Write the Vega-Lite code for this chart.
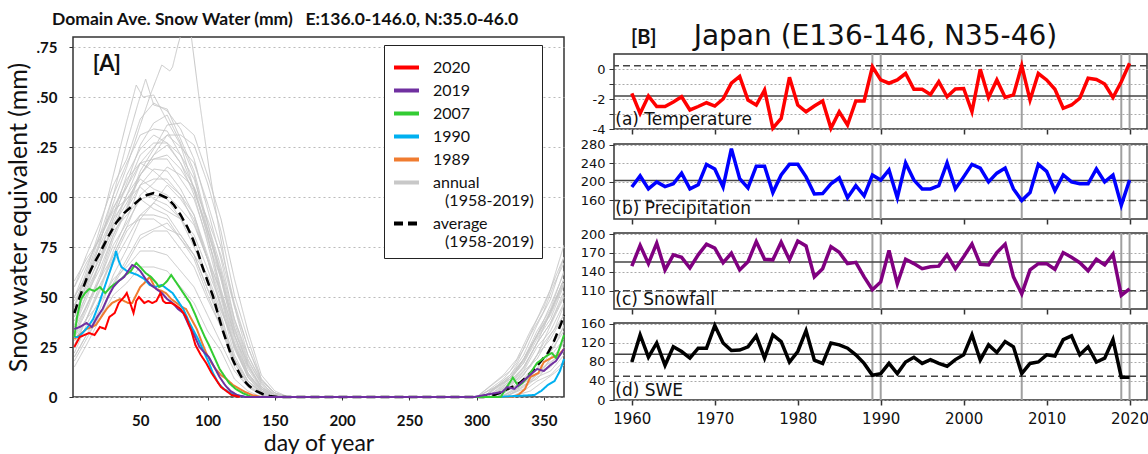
{
"$schema": "https://vega.github.io/schema/vega-lite/v6.json",
"background": "white",
"padding": {"left": 5, "top": 9, "right": 0, "bottom": 0},
"autosize": {"type": "pad"},
"config": {
  "view": {"stroke": "#333", "strokeWidth": 1.5},
  "axis": {"domain": false, "tickColor": "#333", "labelColor": "#111", "titleColor": "#111", "labelOverlap": false}
},
"datasets": {
"swe": [
{"s":"g","y":1963,"d":1,"v":50},{"s":"g","y":1963,"d":10,"v":60},{"s":"g","y":1963,"d":20,"v":78},{"s":"g","y":1963,"d":30,"v":97},{"s":"g","y":1963,"d":40,"v":115},{"s":"g","y":1963,"d":50,"v":136},{"s":"g","y":1963,"d":58,"v":152},{"s":"g","y":1963,"d":66,"v":166},{"s":"g","y":1963,"d":72,"v":163},{"s":"g","y":1963,"d":74,"v":165},{"s":"g","y":1963,"d":78,"v":176},{"s":"g","y":1963,"d":84,"v":190},{"s":"g","y":1963,"d":88,"v":180},{"s":"g","y":1963,"d":94,"v":148},{"s":"g","y":1963,"d":101,"v":115},{"s":"g","y":1963,"d":108,"v":86},{"s":"g","y":1963,"d":115,"v":60},{"s":"g","y":1963,"d":122,"v":40},{"s":"g","y":1963,"d":130,"v":21},{"s":"g","y":1963,"d":140,"v":8},{"s":"g","y":1963,"d":150,"v":2},{"s":"g","y":1963,"d":158,"v":0},{"s":"g","y":1963,"d":300,"v":0},{"s":"g","y":1963,"d":325,"v":9},{"s":"g","y":1963,"d":335,"v":19},{"s":"g","y":1963,"d":345,"v":31},{"s":"g","y":1963,"d":355,"v":46},{"s":"g","y":1963,"d":365,"v":62},
{"s":"g","y":1958,"d":1,"v":45},{"s":"g","y":1958,"d":10,"v":63},{"s":"g","y":1958,"d":20,"v":84},{"s":"g","y":1958,"d":30,"v":111},{"s":"g","y":1958,"d":40,"v":138},{"s":"g","y":1958,"d":47,"v":156},{"s":"g","y":1958,"d":52,"v":150},{"s":"g","y":1958,"d":60,"v":151},{"s":"g","y":1958,"d":70,"v":138},{"s":"g","y":1958,"d":80,"v":126},{"s":"g","y":1958,"d":90,"v":104},{"s":"g","y":1958,"d":100,"v":81},{"s":"g","y":1958,"d":110,"v":52},{"s":"g","y":1958,"d":120,"v":29},{"s":"g","y":1958,"d":130,"v":12},{"s":"g","y":1958,"d":140,"v":4},{"s":"g","y":1958,"d":150,"v":0},{"s":"g","y":1958,"d":305,"v":0},{"s":"g","y":1958,"d":325,"v":11},{"s":"g","y":1958,"d":335,"v":21},{"s":"g","y":1958,"d":345,"v":36},{"s":"g","y":1958,"d":355,"v":49},{"s":"g","y":1958,"d":365,"v":70},
{"s":"g","y":1960,"d":1,"v":40},{"s":"g","y":1960,"d":10,"v":56},{"s":"g","y":1960,"d":20,"v":77},{"s":"g","y":1960,"d":30,"v":101},{"s":"g","y":1960,"d":40,"v":127},{"s":"g","y":1960,"d":48,"v":146},{"s":"g","y":1960,"d":54,"v":159},{"s":"g","y":1960,"d":60,"v":146},{"s":"g","y":1960,"d":70,"v":144},{"s":"g","y":1960,"d":80,"v":129},{"s":"g","y":1960,"d":90,"v":113},{"s":"g","y":1960,"d":100,"v":87},{"s":"g","y":1960,"d":110,"v":61},{"s":"g","y":1960,"d":120,"v":34},{"s":"g","y":1960,"d":130,"v":16},{"s":"g","y":1960,"d":140,"v":5},{"s":"g","y":1960,"d":150,"v":1},{"s":"g","y":1960,"d":160,"v":0},{"s":"g","y":1960,"d":310,"v":0},{"s":"g","y":1960,"d":325,"v":6},{"s":"g","y":1960,"d":335,"v":15},{"s":"g","y":1960,"d":345,"v":27},{"s":"g","y":1960,"d":355,"v":43},{"s":"g","y":1960,"d":365,"v":59},
{"s":"g","y":1961,"d":1,"v":55},{"s":"g","y":1961,"d":10,"v":71},{"s":"g","y":1961,"d":20,"v":87},{"s":"g","y":1961,"d":30,"v":106},{"s":"g","y":1961,"d":40,"v":119},{"s":"g","y":1961,"d":50,"v":139},{"s":"g","y":1961,"d":60,"v":147},{"s":"g","y":1961,"d":70,"v":143},{"s":"g","y":1961,"d":80,"v":134},{"s":"g","y":1961,"d":90,"v":119},{"s":"g","y":1961,"d":100,"v":94},{"s":"g","y":1961,"d":110,"v":69},{"s":"g","y":1961,"d":120,"v":39},{"s":"g","y":1961,"d":130,"v":19},{"s":"g","y":1961,"d":140,"v":6},{"s":"g","y":1961,"d":150,"v":1},{"s":"g","y":1961,"d":160,"v":0},{"s":"g","y":1961,"d":300,"v":0},{"s":"g","y":1961,"d":325,"v":13},{"s":"g","y":1961,"d":335,"v":24},{"s":"g","y":1961,"d":345,"v":39},{"s":"g","y":1961,"d":355,"v":54},{"s":"g","y":1961,"d":365,"v":76},
{"s":"g","y":1962,"d":1,"v":35},{"s":"g","y":1962,"d":10,"v":49},{"s":"g","y":1962,"d":20,"v":67},{"s":"g","y":1962,"d":30,"v":89},{"s":"g","y":1962,"d":40,"v":107},{"s":"g","y":1962,"d":50,"v":126},{"s":"g","y":1962,"d":60,"v":137},{"s":"g","y":1962,"d":70,"v":141},{"s":"g","y":1962,"d":80,"v":127},{"s":"g","y":1962,"d":90,"v":111},{"s":"g","y":1962,"d":100,"v":84},{"s":"g","y":1962,"d":110,"v":59},{"s":"g","y":1962,"d":120,"v":31},{"s":"g","y":1962,"d":130,"v":14},{"s":"g","y":1962,"d":140,"v":4},{"s":"g","y":1962,"d":150,"v":0},{"s":"g","y":1962,"d":315,"v":0},{"s":"g","y":1962,"d":325,"v":4},{"s":"g","y":1962,"d":335,"v":11},{"s":"g","y":1962,"d":345,"v":21},{"s":"g","y":1962,"d":355,"v":36},{"s":"g","y":1962,"d":365,"v":50},
{"s":"g","y":1964,"d":1,"v":48},{"s":"g","y":1964,"d":10,"v":59},{"s":"g","y":1964,"d":20,"v":76},{"s":"g","y":1964,"d":30,"v":91},{"s":"g","y":1964,"d":40,"v":111},{"s":"g","y":1964,"d":50,"v":124},{"s":"g","y":1964,"d":60,"v":131},{"s":"g","y":1964,"d":70,"v":127},{"s":"g","y":1964,"d":80,"v":121},{"s":"g","y":1964,"d":90,"v":104},{"s":"g","y":1964,"d":100,"v":81},{"s":"g","y":1964,"d":110,"v":54},{"s":"g","y":1964,"d":120,"v":31},{"s":"g","y":1964,"d":130,"v":12},{"s":"g","y":1964,"d":140,"v":3},{"s":"g","y":1964,"d":150,"v":0},{"s":"g","y":1964,"d":310,"v":0},{"s":"g","y":1964,"d":325,"v":8},{"s":"g","y":1964,"d":335,"v":15},{"s":"g","y":1964,"d":345,"v":27},{"s":"g","y":1964,"d":355,"v":37},{"s":"g","y":1964,"d":365,"v":53},
{"s":"g","y":1965,"d":1,"v":30},{"s":"g","y":1965,"d":10,"v":43},{"s":"g","y":1965,"d":20,"v":59},{"s":"g","y":1965,"d":30,"v":79},{"s":"g","y":1965,"d":40,"v":94},{"s":"g","y":1965,"d":50,"v":111},{"s":"g","y":1965,"d":60,"v":121},{"s":"g","y":1965,"d":70,"v":126},{"s":"g","y":1965,"d":80,"v":117},{"s":"g","y":1965,"d":90,"v":101},{"s":"g","y":1965,"d":100,"v":77},{"s":"g","y":1965,"d":110,"v":51},{"s":"g","y":1965,"d":120,"v":25},{"s":"g","y":1965,"d":130,"v":10},{"s":"g","y":1965,"d":140,"v":2},{"s":"g","y":1965,"d":150,"v":0},{"s":"g","y":1965,"d":318,"v":0},{"s":"g","y":1965,"d":330,"v":4},{"s":"g","y":1965,"d":340,"v":11},{"s":"g","y":1965,"d":350,"v":17},{"s":"g","y":1965,"d":358,"v":26},{"s":"g","y":1965,"d":365,"v":33},
{"s":"g","y":1966,"d":1,"v":42},{"s":"g","y":1966,"d":10,"v":54},{"s":"g","y":1966,"d":20,"v":71},{"s":"g","y":1966,"d":30,"v":84},{"s":"g","y":1966,"d":40,"v":101},{"s":"g","y":1966,"d":50,"v":111},{"s":"g","y":1966,"d":60,"v":119},{"s":"g","y":1966,"d":70,"v":121},{"s":"g","y":1966,"d":80,"v":114},{"s":"g","y":1966,"d":90,"v":103},{"s":"g","y":1966,"d":100,"v":84},{"s":"g","y":1966,"d":110,"v":63},{"s":"g","y":1966,"d":120,"v":37},{"s":"g","y":1966,"d":130,"v":18},{"s":"g","y":1966,"d":140,"v":7},{"s":"g","y":1966,"d":150,"v":1},{"s":"g","y":1966,"d":160,"v":0},{"s":"g","y":1966,"d":305,"v":0},{"s":"g","y":1966,"d":325,"v":10},{"s":"g","y":1966,"d":335,"v":19},{"s":"g","y":1966,"d":345,"v":31},{"s":"g","y":1966,"d":355,"v":43},{"s":"g","y":1966,"d":365,"v":59},
{"s":"g","y":1967,"d":1,"v":25},{"s":"g","y":1967,"d":10,"v":39},{"s":"g","y":1967,"d":20,"v":54},{"s":"g","y":1967,"d":30,"v":73},{"s":"g","y":1967,"d":40,"v":89},{"s":"g","y":1967,"d":50,"v":106},{"s":"g","y":1967,"d":60,"v":114},{"s":"g","y":1967,"d":70,"v":113},{"s":"g","y":1967,"d":80,"v":104},{"s":"g","y":1967,"d":90,"v":91},{"s":"g","y":1967,"d":100,"v":69},{"s":"g","y":1967,"d":110,"v":46},{"s":"g","y":1967,"d":120,"v":21},{"s":"g","y":1967,"d":130,"v":8},{"s":"g","y":1967,"d":140,"v":2},{"s":"g","y":1967,"d":150,"v":0},{"s":"g","y":1967,"d":320,"v":0},{"s":"g","y":1967,"d":330,"v":3},{"s":"g","y":1967,"d":340,"v":8},{"s":"g","y":1967,"d":350,"v":15},{"s":"g","y":1967,"d":358,"v":19},{"s":"g","y":1967,"d":365,"v":28},
{"s":"g","y":1968,"d":1,"v":50},{"s":"g","y":1968,"d":10,"v":61},{"s":"g","y":1968,"d":20,"v":81},{"s":"g","y":1968,"d":30,"v":94},{"s":"g","y":1968,"d":40,"v":109},{"s":"g","y":1968,"d":50,"v":117},{"s":"g","y":1968,"d":60,"v":113},{"s":"g","y":1968,"d":70,"v":107},{"s":"g","y":1968,"d":80,"v":101},{"s":"g","y":1968,"d":90,"v":87},{"s":"g","y":1968,"d":100,"v":69},{"s":"g","y":1968,"d":110,"v":44},{"s":"g","y":1968,"d":120,"v":26},{"s":"g","y":1968,"d":130,"v":10},{"s":"g","y":1968,"d":140,"v":3},{"s":"g","y":1968,"d":150,"v":0},{"s":"g","y":1968,"d":308,"v":0},{"s":"g","y":1968,"d":325,"v":9},{"s":"g","y":1968,"d":335,"v":17},{"s":"g","y":1968,"d":345,"v":29},{"s":"g","y":1968,"d":355,"v":39},{"s":"g","y":1968,"d":365,"v":56},
{"s":"g","y":1969,"d":1,"v":38},{"s":"g","y":1969,"d":10,"v":51},{"s":"g","y":1969,"d":20,"v":64},{"s":"g","y":1969,"d":30,"v":81},{"s":"g","y":1969,"d":40,"v":94},{"s":"g","y":1969,"d":50,"v":106},{"s":"g","y":1969,"d":60,"v":109},{"s":"g","y":1969,"d":70,"v":109},{"s":"g","y":1969,"d":80,"v":101},{"s":"g","y":1969,"d":90,"v":91},{"s":"g","y":1969,"d":100,"v":71},{"s":"g","y":1969,"d":110,"v":51},{"s":"g","y":1969,"d":120,"v":27},{"s":"g","y":1969,"d":130,"v":12},{"s":"g","y":1969,"d":140,"v":3},{"s":"g","y":1969,"d":150,"v":0},{"s":"g","y":1969,"d":312,"v":0},{"s":"g","y":1969,"d":325,"v":5},{"s":"g","y":1969,"d":335,"v":13},{"s":"g","y":1969,"d":345,"v":19},{"s":"g","y":1969,"d":355,"v":31},{"s":"g","y":1969,"d":365,"v":41},
{"s":"g","y":1970,"d":1,"v":20},{"s":"g","y":1970,"d":10,"v":31},{"s":"g","y":1970,"d":20,"v":44},{"s":"g","y":1970,"d":30,"v":61},{"s":"g","y":1970,"d":40,"v":74},{"s":"g","y":1970,"d":50,"v":89},{"s":"g","y":1970,"d":60,"v":97},{"s":"g","y":1970,"d":70,"v":106},{"s":"g","y":1970,"d":80,"v":99},{"s":"g","y":1970,"d":90,"v":89},{"s":"g","y":1970,"d":100,"v":69},{"s":"g","y":1970,"d":110,"v":49},{"s":"g","y":1970,"d":120,"v":24},{"s":"g","y":1970,"d":130,"v":10},{"s":"g","y":1970,"d":140,"v":2},{"s":"g","y":1970,"d":150,"v":0},{"s":"g","y":1970,"d":322,"v":0},{"s":"g","y":1970,"d":335,"v":5},{"s":"g","y":1970,"d":345,"v":11},{"s":"g","y":1970,"d":355,"v":15},{"s":"g","y":1970,"d":365,"v":23},
{"s":"g","y":1971,"d":1,"v":45},{"s":"g","y":1971,"d":10,"v":57},{"s":"g","y":1971,"d":20,"v":73},{"s":"g","y":1971,"d":30,"v":89},{"s":"g","y":1971,"d":40,"v":99},{"s":"g","y":1971,"d":50,"v":109},{"s":"g","y":1971,"d":60,"v":104},{"s":"g","y":1971,"d":70,"v":101},{"s":"g","y":1971,"d":80,"v":94},{"s":"g","y":1971,"d":90,"v":86},{"s":"g","y":1971,"d":100,"v":69},{"s":"g","y":1971,"d":110,"v":53},{"s":"g","y":1971,"d":120,"v":31},{"s":"g","y":1971,"d":130,"v":15},{"s":"g","y":1971,"d":140,"v":5},{"s":"g","y":1971,"d":150,"v":1},{"s":"g","y":1971,"d":160,"v":0},{"s":"g","y":1971,"d":305,"v":0},{"s":"g","y":1971,"d":325,"v":11},{"s":"g","y":1971,"d":335,"v":19},{"s":"g","y":1971,"d":345,"v":33},{"s":"g","y":1971,"d":355,"v":44},{"s":"g","y":1971,"d":365,"v":63},
{"s":"g","y":1972,"d":1,"v":32},{"s":"g","y":1972,"d":10,"v":46},{"s":"g","y":1972,"d":20,"v":59},{"s":"g","y":1972,"d":30,"v":76},{"s":"g","y":1972,"d":40,"v":87},{"s":"g","y":1972,"d":50,"v":99},{"s":"g","y":1972,"d":60,"v":101},{"s":"g","y":1972,"d":70,"v":99},{"s":"g","y":1972,"d":80,"v":89},{"s":"g","y":1972,"d":90,"v":79},{"s":"g","y":1972,"d":100,"v":59},{"s":"g","y":1972,"d":110,"v":41},{"s":"g","y":1972,"d":120,"v":19},{"s":"g","y":1972,"d":130,"v":8},{"s":"g","y":1972,"d":140,"v":2},{"s":"g","y":1972,"d":150,"v":0},{"s":"g","y":1972,"d":315,"v":0},{"s":"g","y":1972,"d":330,"v":6},{"s":"g","y":1972,"d":340,"v":13},{"s":"g","y":1972,"d":350,"v":19},{"s":"g","y":1972,"d":358,"v":28},{"s":"g","y":1972,"d":365,"v":35},
{"s":"g","y":1973,"d":1,"v":28},{"s":"g","y":1973,"d":10,"v":39},{"s":"g","y":1973,"d":20,"v":56},{"s":"g","y":1973,"d":30,"v":69},{"s":"g","y":1973,"d":40,"v":83},{"s":"g","y":1973,"d":50,"v":91},{"s":"g","y":1973,"d":60,"v":97},{"s":"g","y":1973,"d":70,"v":93},{"s":"g","y":1973,"d":80,"v":89},{"s":"g","y":1973,"d":90,"v":75},{"s":"g","y":1973,"d":100,"v":59},{"s":"g","y":1973,"d":110,"v":37},{"s":"g","y":1973,"d":120,"v":19},{"s":"g","y":1973,"d":130,"v":6},{"s":"g","y":1973,"d":140,"v":1},{"s":"g","y":1973,"d":150,"v":0},{"s":"g","y":1973,"d":318,"v":0},{"s":"g","y":1973,"d":330,"v":4},{"s":"g","y":1973,"d":340,"v":10},{"s":"g","y":1973,"d":350,"v":14},{"s":"g","y":1973,"d":358,"v":23},{"s":"g","y":1973,"d":365,"v":29},
{"s":"g","y":1974,"d":1,"v":40},{"s":"g","y":1974,"d":10,"v":53},{"s":"g","y":1974,"d":20,"v":67},{"s":"g","y":1974,"d":30,"v":83},{"s":"g","y":1974,"d":40,"v":91},{"s":"g","y":1974,"d":50,"v":99},{"s":"g","y":1974,"d":60,"v":94},{"s":"g","y":1974,"d":70,"v":91},{"s":"g","y":1974,"d":80,"v":81},{"s":"g","y":1974,"d":90,"v":71},{"s":"g","y":1974,"d":100,"v":54},{"s":"g","y":1974,"d":110,"v":37},{"s":"g","y":1974,"d":120,"v":17},{"s":"g","y":1974,"d":130,"v":6},{"s":"g","y":1974,"d":140,"v":1},{"s":"g","y":1974,"d":150,"v":0},{"s":"g","y":1974,"d":310,"v":0},{"s":"g","y":1974,"d":325,"v":7},{"s":"g","y":1974,"d":335,"v":13},{"s":"g","y":1974,"d":345,"v":25},{"s":"g","y":1974,"d":355,"v":33},{"s":"g","y":1974,"d":365,"v":47},
{"s":"g","y":1975,"d":1,"v":55},{"s":"g","y":1975,"d":10,"v":67},{"s":"g","y":1975,"d":20,"v":79},{"s":"g","y":1975,"d":30,"v":93},{"s":"g","y":1975,"d":40,"v":99},{"s":"g","y":1975,"d":50,"v":105},{"s":"g","y":1975,"d":60,"v":99},{"s":"g","y":1975,"d":70,"v":96},{"s":"g","y":1975,"d":80,"v":89},{"s":"g","y":1975,"d":90,"v":81},{"s":"g","y":1975,"d":100,"v":64},{"s":"g","y":1975,"d":110,"v":46},{"s":"g","y":1975,"d":120,"v":25},{"s":"g","y":1975,"d":130,"v":11},{"s":"g","y":1975,"d":140,"v":3},{"s":"g","y":1975,"d":150,"v":0},{"s":"g","y":1975,"d":300,"v":0},{"s":"g","y":1975,"d":320,"v":7},{"s":"g","y":1975,"d":330,"v":13},{"s":"g","y":1975,"d":340,"v":25},{"s":"g","y":1975,"d":350,"v":35},{"s":"g","y":1975,"d":358,"v":47},{"s":"g","y":1975,"d":365,"v":57},
{"s":"g","y":1976,"d":1,"v":22},{"s":"g","y":1976,"d":10,"v":36},{"s":"g","y":1976,"d":20,"v":49},{"s":"g","y":1976,"d":30,"v":67},{"s":"g","y":1976,"d":40,"v":79},{"s":"g","y":1976,"d":50,"v":91},{"s":"g","y":1976,"d":60,"v":91},{"s":"g","y":1976,"d":70,"v":89},{"s":"g","y":1976,"d":80,"v":79},{"s":"g","y":1976,"d":90,"v":69},{"s":"g","y":1976,"d":100,"v":51},{"s":"g","y":1976,"d":110,"v":35},{"s":"g","y":1976,"d":120,"v":15},{"s":"g","y":1976,"d":130,"v":5},{"s":"g","y":1976,"d":140,"v":1},{"s":"g","y":1976,"d":150,"v":0},{"s":"g","y":1976,"d":320,"v":0},{"s":"g","y":1976,"d":335,"v":4},{"s":"g","y":1976,"d":345,"v":10},{"s":"g","y":1976,"d":355,"v":13},{"s":"g","y":1976,"d":365,"v":21},
{"s":"g","y":1977,"d":1,"v":35},{"s":"g","y":1977,"d":10,"v":45},{"s":"g","y":1977,"d":20,"v":59},{"s":"g","y":1977,"d":30,"v":71},{"s":"g","y":1977,"d":40,"v":85},{"s":"g","y":1977,"d":50,"v":89},{"s":"g","y":1977,"d":60,"v":89},{"s":"g","y":1977,"d":70,"v":84},{"s":"g","y":1977,"d":80,"v":81},{"s":"g","y":1977,"d":90,"v":71},{"s":"g","y":1977,"d":100,"v":61},{"s":"g","y":1977,"d":110,"v":43},{"s":"g","y":1977,"d":120,"v":27},{"s":"g","y":1977,"d":130,"v":11},{"s":"g","y":1977,"d":140,"v":4},{"s":"g","y":1977,"d":150,"v":1},{"s":"g","y":1977,"d":160,"v":0},{"s":"g","y":1977,"d":312,"v":0},{"s":"g","y":1977,"d":325,"v":6},{"s":"g","y":1977,"d":335,"v":11},{"s":"g","y":1977,"d":345,"v":21},{"s":"g","y":1977,"d":355,"v":29},{"s":"g","y":1977,"d":365,"v":41},
{"s":"g","y":1978,"d":1,"v":18},{"s":"g","y":1978,"d":10,"v":29},{"s":"g","y":1978,"d":20,"v":41},{"s":"g","y":1978,"d":30,"v":57},{"s":"g","y":1978,"d":40,"v":69},{"s":"g","y":1978,"d":50,"v":81},{"s":"g","y":1978,"d":60,"v":84},{"s":"g","y":1978,"d":70,"v":87},{"s":"g","y":1978,"d":80,"v":79},{"s":"g","y":1978,"d":90,"v":71},{"s":"g","y":1978,"d":100,"v":54},{"s":"g","y":1978,"d":110,"v":39},{"s":"g","y":1978,"d":120,"v":19},{"s":"g","y":1978,"d":130,"v":8},{"s":"g","y":1978,"d":140,"v":2},{"s":"g","y":1978,"d":150,"v":0},{"s":"g","y":1978,"d":325,"v":0},{"s":"g","y":1978,"d":335,"v":3},{"s":"g","y":1978,"d":345,"v":8},{"s":"g","y":1978,"d":355,"v":11},{"s":"g","y":1978,"d":365,"v":18},
{"s":"g","y":1980,"d":1,"v":42},{"s":"g","y":1980,"d":10,"v":56},{"s":"g","y":1980,"d":20,"v":69},{"s":"g","y":1980,"d":30,"v":86},{"s":"g","y":1980,"d":40,"v":97},{"s":"g","y":1980,"d":50,"v":111},{"s":"g","y":1980,"d":60,"v":121},{"s":"g","y":1980,"d":70,"v":131},{"s":"g","y":1980,"d":80,"v":131},{"s":"g","y":1980,"d":90,"v":126},{"s":"g","y":1980,"d":100,"v":107},{"s":"g","y":1980,"d":110,"v":83},{"s":"g","y":1980,"d":120,"v":51},{"s":"g","y":1980,"d":130,"v":29},{"s":"g","y":1980,"d":140,"v":9},{"s":"g","y":1980,"d":150,"v":2},{"s":"g","y":1980,"d":160,"v":0},{"s":"g","y":1980,"d":305,"v":0},{"s":"g","y":1980,"d":325,"v":9},{"s":"g","y":1980,"d":335,"v":17},{"s":"g","y":1980,"d":345,"v":31},{"s":"g","y":1980,"d":355,"v":41},{"s":"g","y":1980,"d":365,"v":57},
{"s":"g","y":1981,"d":1,"v":30},{"s":"g","y":1981,"d":10,"v":45},{"s":"g","y":1981,"d":20,"v":61},{"s":"g","y":1981,"d":30,"v":81},{"s":"g","y":1981,"d":40,"v":95},{"s":"g","y":1981,"d":50,"v":113},{"s":"g","y":1981,"d":60,"v":124},{"s":"g","y":1981,"d":70,"v":136},{"s":"g","y":1981,"d":80,"v":137},{"s":"g","y":1981,"d":90,"v":131},{"s":"g","y":1981,"d":100,"v":111},{"s":"g","y":1981,"d":110,"v":89},{"s":"g","y":1981,"d":120,"v":59},{"s":"g","y":1981,"d":130,"v":33},{"s":"g","y":1981,"d":140,"v":11},{"s":"g","y":1981,"d":150,"v":3},{"s":"g","y":1981,"d":160,"v":0},{"s":"g","y":1981,"d":310,"v":0},{"s":"g","y":1981,"d":330,"v":9},{"s":"g","y":1981,"d":340,"v":15},{"s":"g","y":1981,"d":350,"v":27},{"s":"g","y":1981,"d":358,"v":34},{"s":"g","y":1981,"d":365,"v":46},
{"s":"g","y":1984,"d":1,"v":50},{"s":"g","y":1984,"d":10,"v":65},{"s":"g","y":1984,"d":20,"v":81},{"s":"g","y":1984,"d":30,"v":101},{"s":"g","y":1984,"d":40,"v":117},{"s":"g","y":1984,"d":50,"v":131},{"s":"g","y":1984,"d":60,"v":134},{"s":"g","y":1984,"d":70,"v":133},{"s":"g","y":1984,"d":80,"v":121},{"s":"g","y":1984,"d":90,"v":109},{"s":"g","y":1984,"d":100,"v":87},{"s":"g","y":1984,"d":110,"v":65},{"s":"g","y":1984,"d":120,"v":39},{"s":"g","y":1984,"d":130,"v":21},{"s":"g","y":1984,"d":140,"v":7},{"s":"g","y":1984,"d":150,"v":1},{"s":"g","y":1984,"d":160,"v":0},{"s":"g","y":1984,"d":302,"v":0},{"s":"g","y":1984,"d":320,"v":9},{"s":"g","y":1984,"d":330,"v":17},{"s":"g","y":1984,"d":340,"v":31},{"s":"g","y":1984,"d":350,"v":43},{"s":"g","y":1984,"d":358,"v":57},{"s":"g","y":1984,"d":365,"v":67},
{"s":"g","y":1985,"d":1,"v":36},{"s":"g","y":1985,"d":10,"v":51},{"s":"g","y":1985,"d":20,"v":67},{"s":"g","y":1985,"d":30,"v":87},{"s":"g","y":1985,"d":40,"v":101},{"s":"g","y":1985,"d":50,"v":117},{"s":"g","y":1985,"d":60,"v":125},{"s":"g","y":1985,"d":70,"v":131},{"s":"g","y":1985,"d":80,"v":125},{"s":"g","y":1985,"d":90,"v":117},{"s":"g","y":1985,"d":100,"v":97},{"s":"g","y":1985,"d":110,"v":75},{"s":"g","y":1985,"d":120,"v":47},{"s":"g","y":1985,"d":130,"v":25},{"s":"g","y":1985,"d":140,"v":8},{"s":"g","y":1985,"d":150,"v":2},{"s":"g","y":1985,"d":160,"v":0},{"s":"g","y":1985,"d":308,"v":0},{"s":"g","y":1985,"d":325,"v":8},{"s":"g","y":1985,"d":335,"v":14},{"s":"g","y":1985,"d":345,"v":27},{"s":"g","y":1985,"d":355,"v":37},{"s":"g","y":1985,"d":365,"v":51},
{"s":"g","y":1986,"d":1,"v":26},{"s":"g","y":1986,"d":10,"v":39},{"s":"g","y":1986,"d":20,"v":53},{"s":"g","y":1986,"d":30,"v":71},{"s":"g","y":1986,"d":40,"v":85},{"s":"g","y":1986,"d":50,"v":101},{"s":"g","y":1986,"d":60,"v":107},{"s":"g","y":1986,"d":70,"v":115},{"s":"g","y":1986,"d":80,"v":111},{"s":"g","y":1986,"d":90,"v":105},{"s":"g","y":1986,"d":100,"v":89},{"s":"g","y":1986,"d":110,"v":71},{"s":"g","y":1986,"d":120,"v":45},{"s":"g","y":1986,"d":130,"v":25},{"s":"g","y":1986,"d":140,"v":9},{"s":"g","y":1986,"d":150,"v":2},{"s":"g","y":1986,"d":160,"v":0},{"s":"g","y":1986,"d":315,"v":0},{"s":"g","y":1986,"d":330,"v":6},{"s":"g","y":1986,"d":340,"v":10},{"s":"g","y":1986,"d":350,"v":19},{"s":"g","y":1986,"d":358,"v":25},{"s":"g","y":1986,"d":365,"v":36},
{"s":"g","y":1991,"d":1,"v":46},{"s":"g","y":1991,"d":10,"v":59},{"s":"g","y":1991,"d":20,"v":73},{"s":"g","y":1991,"d":30,"v":91},{"s":"g","y":1991,"d":40,"v":105},{"s":"g","y":1991,"d":50,"v":121},{"s":"g","y":1991,"d":60,"v":127},{"s":"g","y":1991,"d":70,"v":127},{"s":"g","y":1991,"d":80,"v":117},{"s":"g","y":1991,"d":90,"v":105},{"s":"g","y":1991,"d":100,"v":83},{"s":"g","y":1991,"d":110,"v":61},{"s":"g","y":1991,"d":120,"v":35},{"s":"g","y":1991,"d":130,"v":17},{"s":"g","y":1991,"d":140,"v":5},{"s":"g","y":1991,"d":150,"v":0},{"s":"g","y":1991,"d":306,"v":0},{"s":"g","y":1991,"d":325,"v":10},{"s":"g","y":1991,"d":335,"v":18},{"s":"g","y":1991,"d":345,"v":31},{"s":"g","y":1991,"d":355,"v":42},{"s":"g","y":1991,"d":365,"v":59},
{"s":"g","y":1995,"d":1,"v":15},{"s":"g","y":1995,"d":10,"v":26},{"s":"g","y":1995,"d":20,"v":39},{"s":"g","y":1995,"d":30,"v":56},{"s":"g","y":1995,"d":40,"v":67},{"s":"g","y":1995,"d":50,"v":79},{"s":"g","y":1995,"d":60,"v":83},{"s":"g","y":1995,"d":70,"v":83},{"s":"g","y":1995,"d":80,"v":74},{"s":"g","y":1995,"d":90,"v":65},{"s":"g","y":1995,"d":100,"v":49},{"s":"g","y":1995,"d":110,"v":35},{"s":"g","y":1995,"d":120,"v":17},{"s":"g","y":1995,"d":130,"v":7},{"s":"g","y":1995,"d":140,"v":1},{"s":"g","y":1995,"d":150,"v":0},{"s":"g","y":1995,"d":322,"v":0},{"s":"g","y":1995,"d":335,"v":6},{"s":"g","y":1995,"d":345,"v":9},{"s":"g","y":1995,"d":355,"v":17},{"s":"g","y":1995,"d":365,"v":23},
{"s":"g","y":2000,"d":1,"v":58},{"s":"g","y":2000,"d":10,"v":69},{"s":"g","y":2000,"d":20,"v":79},{"s":"g","y":2000,"d":30,"v":95},{"s":"g","y":2000,"d":40,"v":105},{"s":"g","y":2000,"d":50,"v":117},{"s":"g","y":2000,"d":60,"v":119},{"s":"g","y":2000,"d":70,"v":119},{"s":"g","y":2000,"d":80,"v":109},{"s":"g","y":2000,"d":90,"v":99},{"s":"g","y":2000,"d":100,"v":79},{"s":"g","y":2000,"d":110,"v":59},{"s":"g","y":2000,"d":120,"v":33},{"s":"g","y":2000,"d":130,"v":16},{"s":"g","y":2000,"d":140,"v":4},{"s":"g","y":2000,"d":150,"v":0},{"s":"g","y":2000,"d":300,"v":0},{"s":"g","y":2000,"d":320,"v":11},{"s":"g","y":2000,"d":330,"v":19},{"s":"g","y":2000,"d":340,"v":33},{"s":"g","y":2000,"d":350,"v":45},{"s":"g","y":2000,"d":358,"v":59},{"s":"g","y":2000,"d":365,"v":70},
{"s":"g","y":2006,"d":1,"v":20},{"s":"g","y":2006,"d":10,"v":31},{"s":"g","y":2006,"d":20,"v":39},{"s":"g","y":2006,"d":30,"v":51},{"s":"g","y":2006,"d":40,"v":57},{"s":"g","y":2006,"d":50,"v":65},{"s":"g","y":2006,"d":60,"v":65},{"s":"g","y":2006,"d":70,"v":63},{"s":"g","y":2006,"d":80,"v":55},{"s":"g","y":2006,"d":90,"v":47},{"s":"g","y":2006,"d":100,"v":33},{"s":"g","y":2006,"d":110,"v":23},{"s":"g","y":2006,"d":120,"v":9},{"s":"g","y":2006,"d":130,"v":3},{"s":"g","y":2006,"d":140,"v":0},{"s":"g","y":2006,"d":325,"v":0},{"s":"g","y":2006,"d":340,"v":3},{"s":"g","y":2006,"d":350,"v":8},{"s":"g","y":2006,"d":358,"v":12},{"s":"g","y":2006,"d":365,"v":16},
{"s":"g","y":2012,"d":1,"v":30},{"s":"g","y":2012,"d":10,"v":39},{"s":"g","y":2012,"d":20,"v":47},{"s":"g","y":2012,"d":30,"v":59},{"s":"g","y":2012,"d":40,"v":65},{"s":"g","y":2012,"d":50,"v":73},{"s":"g","y":2012,"d":60,"v":73},{"s":"g","y":2012,"d":70,"v":71},{"s":"g","y":2012,"d":80,"v":63},{"s":"g","y":2012,"d":90,"v":55},{"s":"g","y":2012,"d":100,"v":41},{"s":"g","y":2012,"d":110,"v":27},{"s":"g","y":2012,"d":120,"v":13},{"s":"g","y":2012,"d":130,"v":5},{"s":"g","y":2012,"d":140,"v":1},{"s":"g","y":2012,"d":150,"v":0},{"s":"g","y":2012,"d":318,"v":0},{"s":"g","y":2012,"d":330,"v":5},{"s":"g","y":2012,"d":340,"v":9},{"s":"g","y":2012,"d":350,"v":15},{"s":"g","y":2012,"d":358,"v":21},{"s":"g","y":2012,"d":365,"v":27},
{"s":"m","y":0,"d":1,"v":42},{"s":"m","y":0,"d":5,"v":50},{"s":"m","y":0,"d":10,"v":59},{"s":"m","y":0,"d":15,"v":66},{"s":"m","y":0,"d":20,"v":72},{"s":"m","y":0,"d":26,"v":80},{"s":"m","y":0,"d":32,"v":87},{"s":"m","y":0,"d":38,"v":92},{"s":"m","y":0,"d":44,"v":95.5},{"s":"m","y":0,"d":50,"v":99},{"s":"m","y":0,"d":55,"v":101},{"s":"m","y":0,"d":60,"v":102},{"s":"m","y":0,"d":65,"v":101},{"s":"m","y":0,"d":70,"v":99.5},{"s":"m","y":0,"d":75,"v":96},{"s":"m","y":0,"d":80,"v":91},{"s":"m","y":0,"d":85,"v":85},{"s":"m","y":0,"d":89,"v":79},{"s":"m","y":0,"d":93,"v":72},{"s":"m","y":0,"d":96,"v":65.5},{"s":"m","y":0,"d":100,"v":58},{"s":"m","y":0,"d":104,"v":50.5},{"s":"m","y":0,"d":108,"v":41},{"s":"m","y":0,"d":111,"v":34},{"s":"m","y":0,"d":115,"v":26},{"s":"m","y":0,"d":118.5,"v":19},{"s":"m","y":0,"d":122,"v":14},{"s":"m","y":0,"d":126,"v":9},{"s":"m","y":0,"d":131,"v":5.5},{"s":"m","y":0,"d":136,"v":3},{"s":"m","y":0,"d":141,"v":1.5},{"s":"m","y":0,"d":146,"v":0.5},{"s":"m","y":0,"d":152,"v":0},{"s":"m","y":0,"d":305,"v":0},{"s":"m","y":0,"d":311,"v":0.6},{"s":"m","y":0,"d":317,"v":2},{"s":"m","y":0,"d":323,"v":4},{"s":"m","y":0,"d":328,"v":5.5},{"s":"m","y":0,"d":333,"v":7.5},{"s":"m","y":0,"d":338,"v":10.5},{"s":"m","y":0,"d":343,"v":14},{"s":"m","y":0,"d":348,"v":18},{"s":"m","y":0,"d":353,"v":22},{"s":"m","y":0,"d":357,"v":27},{"s":"m","y":0,"d":360,"v":32},{"s":"m","y":0,"d":363,"v":37},{"s":"m","y":0,"d":365,"v":41},
{"s":"1989","y":1989,"d":1,"v":29},{"s":"1989","y":1989,"d":5,"v":31},{"s":"1989","y":1989,"d":10,"v":34},{"s":"1989","y":1989,"d":14,"v":35},{"s":"1989","y":1989,"d":17,"v":36},{"s":"1989","y":1989,"d":21,"v":40},{"s":"1989","y":1989,"d":25,"v":44},{"s":"1989","y":1989,"d":29,"v":47},{"s":"1989","y":1989,"d":32,"v":48},{"s":"1989","y":1989,"d":35,"v":49},{"s":"1989","y":1989,"d":38,"v":48},{"s":"1989","y":1989,"d":41,"v":47},{"s":"1989","y":1989,"d":44,"v":47},{"s":"1989","y":1989,"d":47,"v":51},{"s":"1989","y":1989,"d":50,"v":55},{"s":"1989","y":1989,"d":53,"v":57},{"s":"1989","y":1989,"d":57,"v":60},{"s":"1989","y":1989,"d":60,"v":56},{"s":"1989","y":1989,"d":62,"v":54},{"s":"1989","y":1989,"d":66,"v":53},{"s":"1989","y":1989,"d":69,"v":52},{"s":"1989","y":1989,"d":73,"v":49},{"s":"1989","y":1989,"d":77,"v":47},{"s":"1989","y":1989,"d":81,"v":45},{"s":"1989","y":1989,"d":84,"v":44},{"s":"1989","y":1989,"d":88,"v":39},{"s":"1989","y":1989,"d":92,"v":34},{"s":"1989","y":1989,"d":96,"v":27},{"s":"1989","y":1989,"d":99,"v":22},{"s":"1989","y":1989,"d":103,"v":17},{"s":"1989","y":1989,"d":106,"v":14},{"s":"1989","y":1989,"d":110,"v":11},{"s":"1989","y":1989,"d":114,"v":9},{"s":"1989","y":1989,"d":119,"v":6},{"s":"1989","y":1989,"d":124,"v":4},{"s":"1989","y":1989,"d":128,"v":2.5},{"s":"1989","y":1989,"d":133,"v":1},{"s":"1989","y":1989,"d":140,"v":0},{"s":"1989","y":1989,"d":326,"v":0},{"s":"1989","y":1989,"d":331,"v":1},{"s":"1989","y":1989,"d":336,"v":4},{"s":"1989","y":1989,"d":340,"v":10},{"s":"1989","y":1989,"d":343,"v":11},{"s":"1989","y":1989,"d":346,"v":12},{"s":"1989","y":1989,"d":350,"v":17.5},{"s":"1989","y":1989,"d":354,"v":19},{"s":"1989","y":1989,"d":357,"v":20},{"s":"1989","y":1989,"d":361,"v":21},{"s":"1989","y":1989,"d":365,"v":24},
{"s":"1990","y":1990,"d":1,"v":30},{"s":"1990","y":1990,"d":4,"v":30},{"s":"1990","y":1990,"d":7,"v":32},{"s":"1990","y":1990,"d":11,"v":35},{"s":"1990","y":1990,"d":15,"v":39},{"s":"1990","y":1990,"d":19,"v":46},{"s":"1990","y":1990,"d":22,"v":52},{"s":"1990","y":1990,"d":25,"v":58},{"s":"1990","y":1990,"d":28,"v":64},{"s":"1990","y":1990,"d":31,"v":70},{"s":"1990","y":1990,"d":32,"v":73},{"s":"1990","y":1990,"d":34,"v":68},{"s":"1990","y":1990,"d":36,"v":65},{"s":"1990","y":1990,"d":40,"v":63},{"s":"1990","y":1990,"d":44,"v":62},{"s":"1990","y":1990,"d":48,"v":61},{"s":"1990","y":1990,"d":53,"v":59},{"s":"1990","y":1990,"d":57,"v":56},{"s":"1990","y":1990,"d":61,"v":55},{"s":"1990","y":1990,"d":66,"v":56},{"s":"1990","y":1990,"d":70,"v":54},{"s":"1990","y":1990,"d":74,"v":52},{"s":"1990","y":1990,"d":78,"v":48},{"s":"1990","y":1990,"d":82,"v":44},{"s":"1990","y":1990,"d":86,"v":38},{"s":"1990","y":1990,"d":89,"v":34},{"s":"1990","y":1990,"d":93,"v":29},{"s":"1990","y":1990,"d":97,"v":23},{"s":"1990","y":1990,"d":101,"v":17},{"s":"1990","y":1990,"d":104,"v":12},{"s":"1990","y":1990,"d":108,"v":7},{"s":"1990","y":1990,"d":112,"v":4},{"s":"1990","y":1990,"d":117,"v":2},{"s":"1990","y":1990,"d":122,"v":1},{"s":"1990","y":1990,"d":128,"v":0},{"s":"1990","y":1990,"d":315,"v":0},{"s":"1990","y":1990,"d":343,"v":1},{"s":"1990","y":1990,"d":348,"v":3},{"s":"1990","y":1990,"d":353,"v":6},{"s":"1990","y":1990,"d":358,"v":8},{"s":"1990","y":1990,"d":362,"v":13},{"s":"1990","y":1990,"d":365,"v":19},
{"s":"2007","y":2007,"d":1,"v":30},{"s":"2007","y":2007,"d":3,"v":40},{"s":"2007","y":2007,"d":6,"v":49},{"s":"2007","y":2007,"d":9,"v":52},{"s":"2007","y":2007,"d":12,"v":54},{"s":"2007","y":2007,"d":16,"v":53},{"s":"2007","y":2007,"d":20,"v":55},{"s":"2007","y":2007,"d":24,"v":52},{"s":"2007","y":2007,"d":28,"v":55},{"s":"2007","y":2007,"d":32,"v":57},{"s":"2007","y":2007,"d":36,"v":59},{"s":"2007","y":2007,"d":39,"v":61},{"s":"2007","y":2007,"d":43,"v":63},{"s":"2007","y":2007,"d":47,"v":67},{"s":"2007","y":2007,"d":50,"v":65},{"s":"2007","y":2007,"d":54,"v":62},{"s":"2007","y":2007,"d":58,"v":60},{"s":"2007","y":2007,"d":62,"v":57},{"s":"2007","y":2007,"d":64,"v":55},{"s":"2007","y":2007,"d":67,"v":56},{"s":"2007","y":2007,"d":70,"v":58},{"s":"2007","y":2007,"d":73,"v":61},{"s":"2007","y":2007,"d":76,"v":58},{"s":"2007","y":2007,"d":79,"v":55},{"s":"2007","y":2007,"d":83,"v":51},{"s":"2007","y":2007,"d":87,"v":47},{"s":"2007","y":2007,"d":91,"v":41},{"s":"2007","y":2007,"d":94,"v":36},{"s":"2007","y":2007,"d":98,"v":30},{"s":"2007","y":2007,"d":101,"v":26},{"s":"2007","y":2007,"d":105,"v":20},{"s":"2007","y":2007,"d":109,"v":14},{"s":"2007","y":2007,"d":113,"v":10},{"s":"2007","y":2007,"d":116,"v":7},{"s":"2007","y":2007,"d":121,"v":4},{"s":"2007","y":2007,"d":126,"v":2},{"s":"2007","y":2007,"d":133,"v":0},{"s":"2007","y":2007,"d":318,"v":0},{"s":"2007","y":2007,"d":323,"v":5.5},{"s":"2007","y":2007,"d":327,"v":9.7},{"s":"2007","y":2007,"d":331,"v":5.5},{"s":"2007","y":2007,"d":334,"v":7},{"s":"2007","y":2007,"d":338,"v":10},{"s":"2007","y":2007,"d":342,"v":14},{"s":"2007","y":2007,"d":345,"v":17},{"s":"2007","y":2007,"d":349,"v":19},{"s":"2007","y":2007,"d":353,"v":21},{"s":"2007","y":2007,"d":356,"v":22},{"s":"2007","y":2007,"d":359,"v":19.5},{"s":"2007","y":2007,"d":362,"v":25},{"s":"2007","y":2007,"d":365,"v":31},
{"s":"2019","y":2019,"d":1,"v":34},{"s":"2019","y":2019,"d":5,"v":35},{"s":"2019","y":2019,"d":10,"v":37},{"s":"2019","y":2019,"d":14,"v":35},{"s":"2019","y":2019,"d":18,"v":40},{"s":"2019","y":2019,"d":22,"v":44},{"s":"2019","y":2019,"d":26,"v":50},{"s":"2019","y":2019,"d":30,"v":55},{"s":"2019","y":2019,"d":34,"v":58},{"s":"2019","y":2019,"d":38,"v":60},{"s":"2019","y":2019,"d":41,"v":63},{"s":"2019","y":2019,"d":44,"v":66},{"s":"2019","y":2019,"d":47,"v":65},{"s":"2019","y":2019,"d":50,"v":63},{"s":"2019","y":2019,"d":54,"v":59},{"s":"2019","y":2019,"d":58,"v":56},{"s":"2019","y":2019,"d":62,"v":54},{"s":"2019","y":2019,"d":66,"v":52},{"s":"2019","y":2019,"d":70,"v":49},{"s":"2019","y":2019,"d":74,"v":47},{"s":"2019","y":2019,"d":78,"v":44},{"s":"2019","y":2019,"d":82,"v":42},{"s":"2019","y":2019,"d":86,"v":36},{"s":"2019","y":2019,"d":90,"v":31},{"s":"2019","y":2019,"d":94,"v":25},{"s":"2019","y":2019,"d":98,"v":22},{"s":"2019","y":2019,"d":101,"v":20},{"s":"2019","y":2019,"d":105,"v":15},{"s":"2019","y":2019,"d":109,"v":10},{"s":"2019","y":2019,"d":113,"v":6},{"s":"2019","y":2019,"d":117,"v":3},{"s":"2019","y":2019,"d":122,"v":1},{"s":"2019","y":2019,"d":128,"v":0},{"s":"2019","y":2019,"d":298,"v":0},{"s":"2019","y":2019,"d":310,"v":1.5},{"s":"2019","y":2019,"d":319,"v":2.5},{"s":"2019","y":2019,"d":323,"v":5},{"s":"2019","y":2019,"d":328,"v":4},{"s":"2019","y":2019,"d":333,"v":7},{"s":"2019","y":2019,"d":338,"v":10},{"s":"2019","y":2019,"d":345,"v":14},{"s":"2019","y":2019,"d":350,"v":13},{"s":"2019","y":2019,"d":355,"v":16},{"s":"2019","y":2019,"d":359,"v":18},{"s":"2019","y":2019,"d":365,"v":24},
{"s":"2020","y":2020,"d":1,"v":25},{"s":"2020","y":2020,"d":5,"v":30},{"s":"2020","y":2020,"d":12,"v":32},{"s":"2020","y":2020,"d":16,"v":31},{"s":"2020","y":2020,"d":20,"v":35},{"s":"2020","y":2020,"d":24,"v":34},{"s":"2020","y":2020,"d":27,"v":40},{"s":"2020","y":2020,"d":31,"v":42},{"s":"2020","y":2020,"d":34,"v":47},{"s":"2020","y":2020,"d":38,"v":50},{"s":"2020","y":2020,"d":40,"v":52},{"s":"2020","y":2020,"d":43,"v":46},{"s":"2020","y":2020,"d":45,"v":42},{"s":"2020","y":2020,"d":47,"v":48},{"s":"2020","y":2020,"d":49,"v":50},{"s":"2020","y":2020,"d":53,"v":47},{"s":"2020","y":2020,"d":56,"v":48},{"s":"2020","y":2020,"d":59,"v":47},{"s":"2020","y":2020,"d":62,"v":48},{"s":"2020","y":2020,"d":65,"v":52},{"s":"2020","y":2020,"d":67,"v":48},{"s":"2020","y":2020,"d":69,"v":47},{"s":"2020","y":2020,"d":73,"v":47},{"s":"2020","y":2020,"d":76,"v":46},{"s":"2020","y":2020,"d":80,"v":44},{"s":"2020","y":2020,"d":84,"v":40},{"s":"2020","y":2020,"d":88,"v":33},{"s":"2020","y":2020,"d":91,"v":26},{"s":"2020","y":2020,"d":95,"v":21},{"s":"2020","y":2020,"d":99,"v":17},{"s":"2020","y":2020,"d":103,"v":12},{"s":"2020","y":2020,"d":106,"v":9},{"s":"2020","y":2020,"d":110,"v":5},{"s":"2020","y":2020,"d":114,"v":3},{"s":"2020","y":2020,"d":118,"v":1},{"s":"2020","y":2020,"d":124,"v":0}
],
"jp": [
{"year":1960,"temp":-1.62,"precip":189,"snow":149,"swe":80},
{"year":1961,"temp":-2.96,"precip":213,"snow":182,"swe":137},
{"year":1962,"temp":-1.8,"precip":185,"snow":153,"swe":90},
{"year":1963,"temp":-2.5,"precip":200,"snow":185.5,"swe":120},
{"year":1964,"temp":-2.5,"precip":190,"snow":143,"swe":73},
{"year":1965,"temp":-2.2,"precip":196,"snow":167,"swe":112},
{"year":1966,"temp":-1.85,"precip":219,"snow":163,"swe":102},
{"year":1967,"temp":-2.73,"precip":185,"snow":146,"swe":88},
{"year":1968,"temp":-2.5,"precip":194,"snow":167,"swe":109},
{"year":1969,"temp":-2.25,"precip":238,"snow":184,"swe":109},
{"year":1970,"temp":-2.47,"precip":228,"snow":177.5,"swe":156.6},
{"year":1971,"temp":-2.0,"precip":189,"snow":154.5,"swe":120},
{"year":1972,"temp":-0.95,"precip":272,"snow":169.5,"swe":104},
{"year":1973,"temp":-0.5,"precip":207,"snow":143,"swe":105},
{"year":1974,"temp":-2.07,"precip":187,"snow":156,"swe":112},
{"year":1975,"temp":-2.4,"precip":234,"snow":188,"swe":135},
{"year":1976,"temp":-1.4,"precip":234,"snow":160,"swe":88},
{"year":1977,"temp":-3.95,"precip":177,"snow":159,"swe":137},
{"year":1978,"temp":-3.3,"precip":215,"snow":187,"swe":123},
{"year":1979,"temp":-0.55,"precip":238,"snow":159,"swe":80},
{"year":1980,"temp":-2.4,"precip":238,"snow":189,"swe":102},
{"year":1981,"temp":-2.85,"precip":211,"snow":181,"swe":146},
{"year":1982,"temp":-2.47,"precip":174,"snow":132,"swe":84},
{"year":1983,"temp":-2.13,"precip":175,"snow":145,"swe":77},
{"year":1984,"temp":-3.95,"precip":196,"snow":180,"swe":120},
{"year":1985,"temp":-2.85,"precip":209,"snow":171,"swe":116},
{"year":1986,"temp":-3.73,"precip":166,"snow":153,"swe":109},
{"year":1987,"temp":-2.13,"precip":192,"snow":155,"swe":95},
{"year":1988,"temp":-2.13,"precip":170,"snow":132,"swe":77},
{"year":1989,"temp":0.15,"precip":215,"snow":111.6,"swe":52},
{"year":1990,"temp":-0.73,"precip":204,"snow":124,"swe":55.5},
{"year":1991,"temp":-0.95,"precip":226,"snow":174,"swe":77},
{"year":1992,"temp":-0.73,"precip":166,"snow":121,"swe":55.5},
{"year":1993,"temp":-0.3,"precip":241,"snow":160,"swe":80},
{"year":1994,"temp":-1.35,"precip":204,"snow":153,"swe":90},
{"year":1995,"temp":-1.35,"precip":185,"snow":145,"swe":77},
{"year":1996,"temp":-1.7,"precip":185,"snow":148,"swe":85},
{"year":1997,"temp":-0.85,"precip":192,"snow":149,"swe":77},
{"year":1998,"temp":-1.85,"precip":241,"snow":167,"swe":71},
{"year":1999,"temp":-1.33,"precip":185,"snow":145,"swe":85},
{"year":2000,"temp":-1.3,"precip":211,"snow":164,"swe":95},
{"year":2001,"temp":-2.85,"precip":238,"snow":184,"swe":137},
{"year":2002,"temp":-0.02,"precip":230,"snow":152,"swe":84},
{"year":2003,"temp":-1.9,"precip":200,"snow":151,"swe":116},
{"year":2004,"temp":-0.73,"precip":219,"snow":170.5,"swe":100},
{"year":2005,"temp":-1.9,"precip":230,"snow":184,"swe":123},
{"year":2006,"temp":-1.73,"precip":185,"snow":132,"swe":112},
{"year":2007,"temp":0.22,"precip":160,"snow":105,"swe":55.5},
{"year":2008,"temp":-2.07,"precip":177,"snow":143,"swe":77},
{"year":2009,"temp":-0.3,"precip":238,"snow":153,"swe":80},
{"year":2010,"temp":-0.73,"precip":223,"snow":153,"swe":95},
{"year":2011,"temp":-1.35,"precip":181,"snow":144,"swe":92.5},
{"year":2012,"temp":-2.62,"precip":215,"snow":170.5,"swe":127},
{"year":2013,"temp":-2.4,"precip":200,"snow":163,"swe":135},
{"year":2014,"temp":-1.95,"precip":196,"snow":154.5,"swe":95},
{"year":2015,"temp":-0.62,"precip":196,"snow":141.6,"swe":112},
{"year":2016,"temp":-0.7,"precip":228,"snow":160,"swe":80},
{"year":2017,"temp":-1.0,"precip":200,"snow":151,"swe":88},
{"year":2018,"temp":-1.9,"precip":215,"snow":168,"swe":127},
{"year":2019,"temp":-0.85,"precip":150,"snow":102.5,"swe":48},
{"year":2020,"temp":0.38,"precip":204,"snow":113,"swe":48}
],
"vlines": [{"year":1989},{"year":1990},{"year":2007},{"year":2019},{"year":2020}]
},
"resolve": {"scale": {"color": "independent", "strokeDash": "independent"}},
"spacing": 8,
"hconcat": [
{
  "width": 491, "height": 360,
  "title": {"text": "Domain Ave. Snow Water (mm)\u00a0\u00a0\u00a0E:136.0-146.0, N:35.0-46.0", "font": "Lato", "fontSize": 17.5, "fontWeight": "bold", "anchor": "start", "frame": "group", "dx": -21, "offset": 9, "color": "#111"},
  "data": {"name": "swe"},
  "layer": [
    {
      "transform": [{"filter": "datum.s == 'g'"}],
      "mark": {"type": "line", "strokeWidth": 1, "clip": true},
      "encoding": {
        "x": {"field": "d", "type": "quantitative", "scale": {"domain": [0, 365], "nice": false, "zero": false},
              "axis": {"values": [50,100,150,200,250,300,350], "title": "day of year", "titleFont": "Lato", "titleFontSize": 23, "titleFontWeight": "normal", "titlePadding": 4, "labelFont": "Lato", "labelFontSize": 15, "labelFontWeight": "bold", "tickSize": 3, "labelPadding": 13, "labelFlush": false, "grid": false}},
        "y": {"field": "v", "type": "quantitative", "scale": {"domain": [0, 180], "nice": false},
              "axis": {"values": [0,25,50,75,100,125,150,175], "tickCount": 20, "labelExpr": "datum.value >= 100 ? '.' + slice(toString(datum.value), 1) : toString(datum.value)", "title": "Snow water equivalent (mm)", "titleFont": "Lato", "titleFontSize": 25, "titleFontWeight": "normal", "titlePadding": 5, "labelFont": "Lato", "labelFontSize": 15, "labelFontWeight": "bold", "tickSize": 4, "labelPadding": 12, "grid": true, "gridDash": [2, 3], "gridColor": "#bbbbbb"}},
        "color": {"field": "s", "type": "nominal",
                  "scale": {"domain": ["2020","2019","2007","1990","1989","g","m"], "range": ["#ff0000","#7030a0","#33cc33","#00b0f0","#f07c30","#c8c8c8","#000000"]},
                  "legend": {"title": null, "orient": "none", "legendX": 311, "legendY": 8, "labelExpr": "datum.label == 'g' ? ['annual', '\u200b\u2002\u00a0(1958-2019)'] : datum.label == 'm' ? ['average', '\u200b\u2002\u00a0(1958-2019)'] : datum.label", "labelFont": "Lato", "labelFontSize": 16, "labelColor": "#111", "symbolType": "stroke", "symbolStrokeWidth": 4, "symbolSize": 625, "strokeColor": "#222", "fillColor": "white", "padding": 8, "rowPadding": -2, "labelOffset": 12}},
        "strokeDash": {"field": "s", "type": "nominal",
                  "scale": {"domain": ["2020","2019","2007","1990","1989","g","m"], "range": [[1,0],[1,0],[1,0],[1,0],[1,0],[1,0],[9,5]]},
                  "legend": {"title": null, "orient": "none", "legendX": 311, "legendY": 8, "labelExpr": "datum.label == 'g' ? ['annual', '\u200b\u2002\u00a0(1958-2019)'] : datum.label == 'm' ? ['average', '\u200b\u2002\u00a0(1958-2019)'] : datum.label", "labelFont": "Lato", "labelFontSize": 16, "labelColor": "#111", "symbolType": "stroke", "symbolStrokeWidth": 4, "symbolSize": 625, "strokeColor": "#222", "fillColor": "white", "padding": 8, "rowPadding": -2, "labelOffset": 12}},
        "detail": {"field": "y", "type": "nominal"}
      }
    },
    {
      "transform": [{"filter": "datum.s == 'm'"}],
      "mark": {"type": "line", "strokeWidth": 2.5},
      "encoding": {
        "x": {"field": "d", "type": "quantitative"},
        "y": {"field": "v", "type": "quantitative"},
        "color": {"field": "s", "type": "nominal"},
        "strokeDash": {"field": "s", "type": "nominal"}
      }
    },
    {
      "transform": [{"filter": "datum.s != 'm' && datum.s != 'g'"}],
      "mark": {"type": "line", "strokeWidth": 2},
      "encoding": {
        "x": {"field": "d", "type": "quantitative"},
        "y": {"field": "v", "type": "quantitative"},
        "color": {"field": "s", "type": "nominal"},
        "strokeDash": {"field": "s", "type": "nominal"},
        "detail": {"field": "y", "type": "nominal"}
      }
    },
    {
      "data": {"values": [{"lbl": "[A]", "d": 14.6, "v": 166.5}]},
      "mark": {"type": "text", "align": "left", "baseline": "middle", "font": "Lato", "fontSize": 22, "fontWeight": "bold", "color": "#111"},
      "encoding": {"x": {"field": "d", "type": "quantitative"}, "y": {"field": "v", "type": "quantitative"}, "text": {"field": "lbl"}}
    }
  ]
},
{
  "spacing": 1,
  "vconcat": [
    {
      "width": 533, "height": 5,
      "view": {"stroke": null},
      "data": {"values": [{"k": "b", "lbl": "[B]", "year": 1959.9, "v": 0.86}, {"k": "j", "lbl": "Japan (E136-146, N35-46)", "year": 1967.45, "v": 1.0}]},
      "layer": [
        {"transform": [{"filter": "datum.k == 'b'"}],
         "mark": {"type": "text", "align": "left", "baseline": "middle", "font": "Lato", "fontSize": 20, "fontWeight": "bold", "color": "#111"},
         "encoding": {"x": {"field": "year", "type": "quantitative", "scale": {"domain": [1957.85, 2022.1], "nice": false, "zero": false}, "axis": null}, "y": {"field": "v", "type": "quantitative", "scale": {"domain": [0, 1], "nice": false}, "axis": null}, "text": {"field": "lbl"}}},
        {"transform": [{"filter": "datum.k == 'j'"}],
         "mark": {"type": "text", "align": "left", "baseline": "middle", "font": "DejaVu Sans", "fontSize": 28, "color": "#111"},
         "encoding": {"x": {"field": "year", "type": "quantitative"}, "y": {"field": "v", "type": "quantitative"}, "text": {"field": "lbl"}}}
      ]
    },
    {
      "width": 533, "height": 75,
      "layer": [
        {"data": {"name": "vlines"}, "mark": {"type": "rule", "color": "#a0a0a0", "strokeWidth": 2}, "encoding": {"x": {"field": "year", "type": "quantitative", "scale": {"domain": [1957.85, 2022.1], "nice": false, "zero": false}, "axis": {"values": [1960,1970,1980,1990,2000,2010,2020], "tickCount": 20, "labels": false, "tickSize": 5, "tickWidth": 1.5, "title": null, "grid": false, "minExtent": 5, "maxExtent": 5}}}},
        {"data": {"values": [{"v": -1.8}]}, "mark": {"type": "rule", "color": "#444", "strokeWidth": 1.5}, "encoding": {"y": {"field": "v", "type": "quantitative", "scale": {"domain": [-4, 1], "nice": false, "zero": false}, "axis": {"values": [-4,-3,-2,-1,0], "tickCount": 20, "labelExpr": "datum.value == -1 || datum.value == -3 ? '' : toString(datum.value)", "title": null, "grid": true, "gridDash": [2, 2], "gridColor": "#aaaaaa", "tickSize": 5, "labelPadding": 4, "labelFont": "DejaVu Sans", "labelFontSize": 13, "labelOverlap": false, "minExtent": 35, "maxExtent": 35}}}},
        {"data": {"values": [{"v": 0.22}]}, "mark": {"type": "rule", "color": "#444", "strokeWidth": 1.5, "strokeDash": [7, 4]}, "encoding": {"y": {"field": "v", "type": "quantitative"}}},
        {"data": {"name": "jp"}, "mark": {"type": "line", "color": "#ff0000", "strokeWidth": 3.5},
         "encoding": {"x": {"field": "year", "type": "quantitative"}, "y": {"field": "temp", "type": "quantitative"}}},
        {"data": {"values": [{"lbl": "(a) Temperature", "year": 1958.0, "v": -3.73}]}, "mark": {"type": "text", "align": "left", "baseline": "alphabetic", "font": "DejaVu Sans", "fontSize": 17, "color": "#111"},
         "encoding": {"x": {"field": "year", "type": "quantitative"}, "y": {"field": "v", "type": "quantitative"}, "text": {"field": "lbl"}}}
      ]
    },
    {
      "width": 533, "height": 75,
      "layer": [
        {"data": {"name": "vlines"}, "mark": {"type": "rule", "color": "#a0a0a0", "strokeWidth": 2}, "encoding": {"x": {"field": "year", "type": "quantitative", "scale": {"domain": [1957.85, 2022.1], "nice": false, "zero": false}, "axis": {"values": [1960,1970,1980,1990,2000,2010,2020], "tickCount": 20, "labels": false, "tickSize": 5, "tickWidth": 1.5, "title": null, "grid": false, "minExtent": 5, "maxExtent": 5}}}},
        {"data": {"values": [{"v": 203}]}, "mark": {"type": "rule", "color": "#444", "strokeWidth": 1.5}, "encoding": {"y": {"field": "v", "type": "quantitative", "scale": {"domain": [120, 282], "nice": false, "zero": false}, "axis": {"values": [160,200,240,280], "tickCount": 20, "title": null, "grid": true, "gridDash": [2, 2], "gridColor": "#aaaaaa", "tickSize": 5, "labelPadding": 4, "labelFont": "DejaVu Sans", "labelFontSize": 13, "labelOverlap": false, "minExtent": 35, "maxExtent": 35}}}},
        {"data": {"values": [{"v": 160}]}, "mark": {"type": "rule", "color": "#444", "strokeWidth": 1.5, "strokeDash": [7, 4]}, "encoding": {"y": {"field": "v", "type": "quantitative"}}},
        {"data": {"name": "jp"}, "mark": {"type": "line", "color": "#0000ff", "strokeWidth": 3.5},
         "encoding": {"x": {"field": "year", "type": "quantitative"}, "y": {"field": "precip", "type": "quantitative"}}},
        {"data": {"values": [{"lbl": "(b) Precipitation", "year": 1958.0, "v": 131}]}, "mark": {"type": "text", "align": "left", "baseline": "alphabetic", "font": "DejaVu Sans", "fontSize": 17, "color": "#111"},
         "encoding": {"x": {"field": "year", "type": "quantitative"}, "y": {"field": "v", "type": "quantitative"}, "text": {"field": "lbl"}}}
      ]
    },
    {
      "width": 533, "height": 76,
      "layer": [
        {"data": {"name": "vlines"}, "mark": {"type": "rule", "color": "#a0a0a0", "strokeWidth": 2}, "encoding": {"x": {"field": "year", "type": "quantitative", "scale": {"domain": [1957.85, 2022.1], "nice": false, "zero": false}, "axis": {"values": [1960,1970,1980,1990,2000,2010,2020], "tickCount": 20, "labels": false, "tickSize": 5, "tickWidth": 1.5, "title": null, "grid": false, "minExtent": 5, "maxExtent": 5}}}},
        {"data": {"values": [{"v": 155.5}]}, "mark": {"type": "rule", "color": "#444", "strokeWidth": 1.5}, "encoding": {"y": {"field": "v", "type": "quantitative", "scale": {"domain": [81, 201.6], "nice": false, "zero": false}, "axis": {"values": [110,140,170,200], "tickCount": 20, "title": null, "grid": true, "gridDash": [2, 2], "gridColor": "#aaaaaa", "tickSize": 5, "labelPadding": 4, "labelFont": "DejaVu Sans", "labelFontSize": 13, "labelOverlap": false, "minExtent": 35, "maxExtent": 35}}}},
        {"data": {"values": [{"v": 110}]}, "mark": {"type": "rule", "color": "#444", "strokeWidth": 1.5, "strokeDash": [7, 4]}, "encoding": {"y": {"field": "v", "type": "quantitative"}}},
        {"data": {"name": "jp"}, "mark": {"type": "line", "color": "#800080", "strokeWidth": 3.5},
         "encoding": {"x": {"field": "year", "type": "quantitative"}, "y": {"field": "snow", "type": "quantitative"}}},
        {"data": {"values": [{"lbl": "(c) Snowfall", "year": 1958.0, "v": 87.5}]}, "mark": {"type": "text", "align": "left", "baseline": "alphabetic", "font": "DejaVu Sans", "fontSize": 17, "color": "#111"},
         "encoding": {"x": {"field": "year", "type": "quantitative"}, "y": {"field": "v", "type": "quantitative"}, "text": {"field": "lbl"}}}
      ]
    },
    {
      "width": 533, "height": 77,
      "layer": [
        {"data": {"name": "vlines"}, "mark": {"type": "rule", "color": "#a0a0a0", "strokeWidth": 2}, "encoding": {"x": {"field": "year", "type": "quantitative", "scale": {"domain": [1957.85, 2022.1], "nice": false, "zero": false}, "axis": {"values": [1960,1970,1980,1990,2000,2010,2020], "tickCount": 20, "format": "d", "labels": true, "labelFont": "DejaVu Sans", "labelFontSize": 15, "labelPadding": 6, "labelFlush": false, "tickSize": 5, "tickWidth": 1.5, "title": null, "grid": false}}}},
        {"data": {"values": [{"v": 96}]}, "mark": {"type": "rule", "color": "#444", "strokeWidth": 1.5}, "encoding": {"y": {"field": "v", "type": "quantitative", "scale": {"domain": [0, 162], "nice": false, "zero": false}, "axis": {"values": [0,40,80,120,160], "tickCount": 20, "title": null, "grid": true, "gridDash": [2, 2], "gridColor": "#aaaaaa", "tickSize": 5, "labelPadding": 4, "labelFont": "DejaVu Sans", "labelFontSize": 13, "labelOverlap": false, "minExtent": 35, "maxExtent": 35}}}},
        {"data": {"values": [{"v": 50}]}, "mark": {"type": "rule", "color": "#444", "strokeWidth": 1.5, "strokeDash": [7, 4]}, "encoding": {"y": {"field": "v", "type": "quantitative"}}},
        {"data": {"name": "jp"}, "mark": {"type": "line", "color": "#000000", "strokeWidth": 3.5},
         "encoding": {"x": {"field": "year", "type": "quantitative"}, "y": {"field": "swe", "type": "quantitative"}}},
        {"data": {"values": [{"lbl": "(d) SWE", "year": 1958.0, "v": 8.5}]}, "mark": {"type": "text", "align": "left", "baseline": "alphabetic", "font": "DejaVu Sans", "fontSize": 17, "color": "#111"},
         "encoding": {"x": {"field": "year", "type": "quantitative"}, "y": {"field": "v", "type": "quantitative"}, "text": {"field": "lbl"}}}
      ]
    }
  ]
}
]
}
